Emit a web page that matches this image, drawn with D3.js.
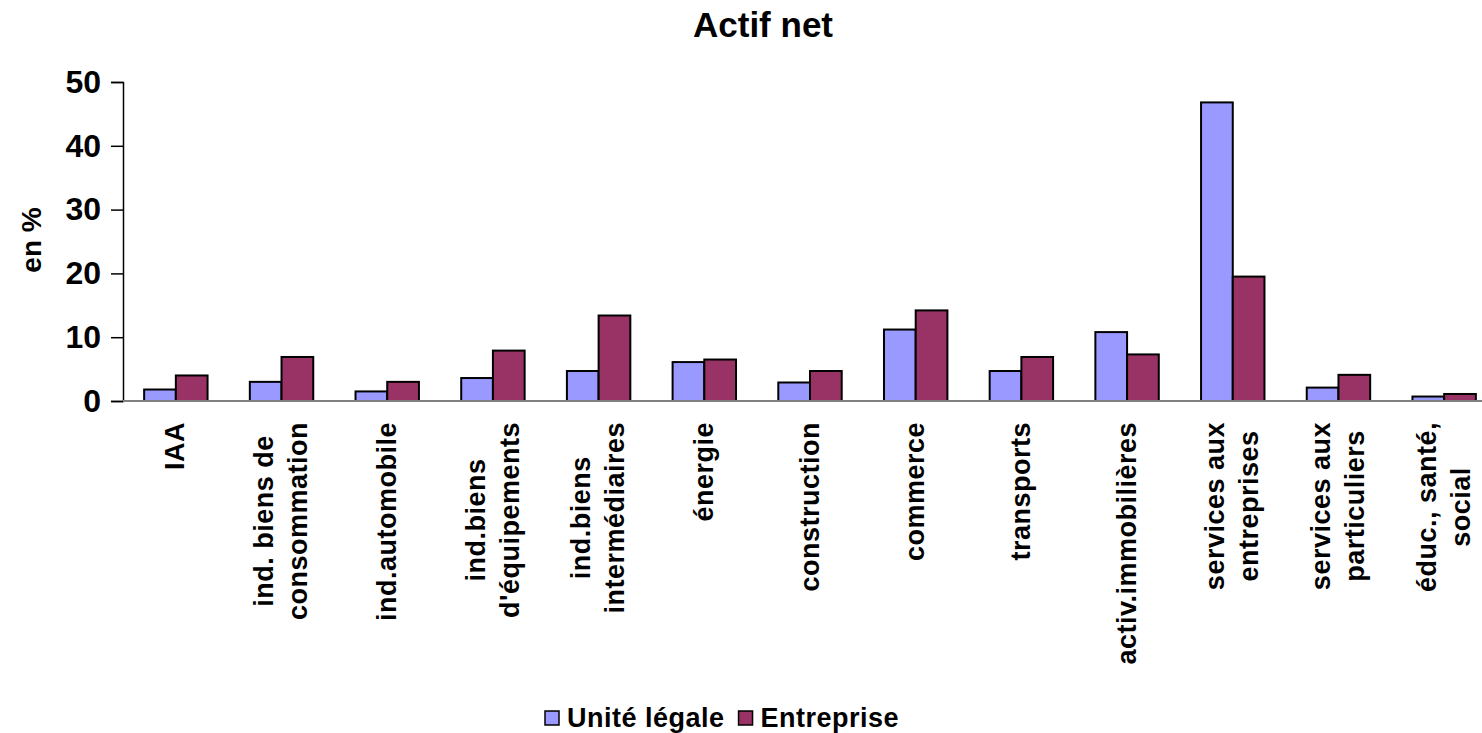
<!DOCTYPE html>
<html>
<head>
<meta charset="utf-8">
<script src="https://cdn.jsdelivr.net/npm/d3@7"></script>
<style>
  body { margin: 0; background: #fff; }
  svg { display: block; font-family: "Liberation Sans", Arial, sans-serif; font-weight: bold; }
</style>
</head>
<body>
<svg class="chart" width="1482" height="733"></svg>
<script>
// categories and values
var categories = [
    "IAA",
    "ind. biens de\nconsommation",
    "ind.automobile",
    "ind.biens\nd'équipements",
    "ind.biens\nintermédiaires",
    "énergie",
    "construction",
    "commerce",
    "transports",
    "activ.immobilières",
    "services aux\nentreprises",
    "services aux\nparticuliers",
    "éduc., santé,\nsocial"
];
var seriesNames = ["Unité légale", "Entreprise"];
var uniteLegale = [1.8, 3.0, 1.5, 3.6, 4.7, 6.1, 2.9, 11.2, 4.7, 10.8, 46.8, 2.1, 0.7];
var entreprise = [4.0, 6.9, 3.0, 7.9, 13.4, 6.5, 4.7, 14.2, 6.9, 7.3, 19.5, 4.1, 1.1];
var yTicks = [0, 10, 20, 30, 40, 50];
var colors = ["#9999ff", "#993366"];

var svg = d3.select("svg.chart");

var rows = categories.map(function(c, i) {
    return {cat: c, values: [uniteLegale[i], entreprise[i]]};
});

var x0 = d3.scaleBand()
    .domain(categories)
    .range([123, 1497])
    .paddingInner(0.4)
    .paddingOuter(0.2);

var x1 = d3.scaleBand()
    .domain([0, 1])
    .range([0, x0.bandwidth()]);

var y = d3.scaleLinear().domain([0, 50]).range([401, 82]);

// title
svg.append("text")
    .attr("x", 763)
    .attr("y", 37)
    .attr("text-anchor", "middle")
    .style("font-size", "35px")
    .text("Actif net");

// y axis
var yAxis = svg.append("g")
    .attr("transform", "translate(123,0)")
    .call(d3.axisLeft(y).tickValues(yTicks).tickSize(12).tickPadding(10));
yAxis.select(".domain").attr("stroke", "#000").attr("stroke-width", 1.5);
yAxis.selectAll(".tick line").attr("stroke", "#000").attr("stroke-width", 1.5);
yAxis.selectAll(".tick text")
    .style("font-size", "32px")
    .style("font-family", "'Liberation Sans', Arial, sans-serif")
    .style("font-weight", "bold")
    .attr("fill", "#000");

svg.append("text")
    .attr("transform", "translate(41,240) rotate(-90)")
    .attr("text-anchor", "middle")
    .style("font-size", "28px")
    .text("en %");

// bars
var groups = svg.selectAll(".group")
    .data(rows)
    .enter()
    .append("g")
    .attr("class", "group")
    .attr("transform", function(d) { return "translate(" + x0(d.cat) + ",0)"; });

groups.selectAll("rect")
    .data(function(d) { return d.values; })
    .enter()
    .append("rect")
    .attr("x", function(d, i) { return x1(i); })
    .attr("y", function(d) { return y(d); })
    .attr("width", x1.bandwidth())
    .attr("height", function(d) { return y(0) - y(d); })
    .attr("fill", function(d, i) { return colors[i]; })
    .attr("stroke", "#000")
    .attr("stroke-width", 2);

// x axis baseline
svg.append("line")
    .attr("x1", 123)
    .attr("x2", 1482)
    .attr("y1", y(0))
    .attr("y2", y(0))
    .attr("stroke", "#808080")
    .attr("stroke-width", 2);

// category labels, rotated, multi-line centered
var fs = 27, lineGap = 34;
var labels = svg.selectAll(".cat-label")
    .data(rows)
    .enter()
    .append("text")
    .attr("class", "cat-label")
    .style("font-size", fs + "px")
    .style("letter-spacing", "0.5px")
    .attr("text-anchor", "middle");

labels.each(function(d) {
    var t = d3.select(this),
        lines = d.cat.split("\n"),
        n = lines.length;
    lines.forEach(function(l, i) {
        t.append("tspan")
            .attr("x", 0)
            .attr("y", (i - (n - 1) / 2) * lineGap + 0.32 * fs)
            .text(l);
    });
    var maxLen = d3.max(t.selectAll("tspan").nodes(), function(s) { return s.getComputedTextLength(); });
    var cx = x0(d.cat) + x0.bandwidth() / 2;
    t.selectAll("tspan").attr("x", -maxLen / 2);
    t.attr("transform", "translate(" + cx + ",422) rotate(-90)");
});

// legend
var legend = svg.append("g");
var lx = 545;
seriesNames.forEach(function(name, i) {
    legend.append("rect")
        .attr("x", lx)
        .attr("y", 711)
        .attr("width", 14)
        .attr("height", 14)
        .attr("fill", colors[i])
        .attr("stroke", "#000")
        .attr("stroke-width", 1.5);
    var txt = legend.append("text")
        .attr("x", lx + 22)
        .attr("y", 727)
        .style("font-size", "27px")
        .style("letter-spacing", "0.5px")
        .text(name);
    lx = lx + 22 + txt.node().getComputedTextLength() + 14;
});
</script>
</body>
</html>
